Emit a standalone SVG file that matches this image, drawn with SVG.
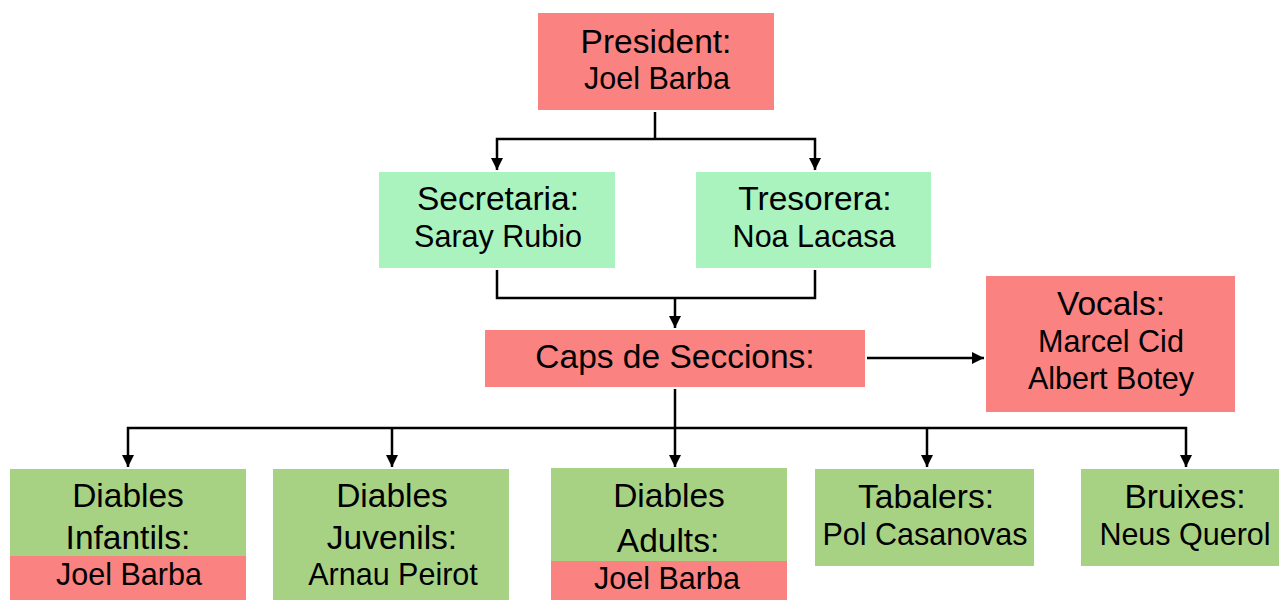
<svg xmlns="http://www.w3.org/2000/svg" width="1279" height="600" viewBox="0 0 1279 600">
<defs>
<style>
.red{fill:#FA8280}
.mint{fill:#AAF2BE}
.green{fill:#A8D283}
text{font-family:"Liberation Sans",Arial,sans-serif;font-size:30.5px;fill:#000;text-anchor:middle}
text.h{font-size:33.5px}
.c{fill:none;stroke:#000;stroke-width:2.5}
</style>
<marker id="ah" viewBox="0 0 10 10" refX="10" refY="5" markerWidth="5" markerHeight="5" orient="auto" markerUnits="strokeWidth">
<path d="M0,0 L10,5 L0,10 Z" fill="#000"/>
</marker>
</defs>
<rect width="1279" height="600" fill="#fff"/>
<g id="connectors">
<path class="c" d="M655,112 V139"/>
<path class="c" d="M655,139 H497 V170" marker-end="url(#ah)"/>
<path class="c" d="M655,139 H815 V170" marker-end="url(#ah)"/>
<path class="c" d="M497,270 V298 H815 V270"/>
<path class="c" d="M675,298 V328" marker-end="url(#ah)"/>
<path class="c" d="M867,358 H984" marker-end="url(#ah)"/>
<path class="c" d="M675,389 V428"/>
<path class="c" d="M675,428 H128 V467" marker-end="url(#ah)"/>
<path class="c" d="M392,428 V467" marker-end="url(#ah)"/>
<path class="c" d="M675,428 V467" marker-end="url(#ah)"/>
<path class="c" d="M927,428 V467" marker-end="url(#ah)"/>
<path class="c" d="M675,428 H1186 V467" marker-end="url(#ah)"/>
</g>
<g id="president">
<rect class="red" x="538" y="13" width="236" height="97"/>
<text class="h" x="656" y="53">President:</text>
<text x="657" y="89">Joel Barba</text>
</g>
<g id="secretaria">
<rect class="mint" x="379" y="172" width="236" height="96"/>
<text class="h" x="498" y="210">Secretaria:</text>
<text x="498" y="247">Saray Rubio</text>
</g>
<g id="tresorera">
<rect class="mint" x="696" y="172" width="235" height="96"/>
<text class="h" x="815" y="210">Tresorera:</text>
<text x="814" y="247">Noa Lacasa</text>
</g>
<g id="caps">
<rect class="red" x="485" y="330" width="380" height="57"/>
<text class="h" x="675" y="368">Caps de Seccions:</text>
</g>
<g id="vocals">
<rect class="red" x="986" y="276" width="249" height="136"/>
<text class="h" x="1111" y="315">Vocals:</text>
<text x="1111" y="352">Marcel Cid</text>
<text x="1111" y="389">Albert Botey</text>
</g>
<g id="infantils">
<rect class="green" x="10" y="469" width="236" height="131"/>
<rect class="red" x="10" y="556" width="236" height="44"/>
<text class="h" x="128" y="507">Diables</text>
<text class="h" x="128" y="549">Infantils:</text>
<text x="129" y="585">Joel Barba</text>
</g>
<g id="juvenils">
<rect class="green" x="273" y="469" width="236" height="131"/>
<text class="h" x="392" y="507">Diables</text>
<text class="h" x="392" y="549">Juvenils:</text>
<text x="393" y="585">Arnau Peirot</text>
</g>
<g id="adults">
<rect class="green" x="551" y="468" width="236" height="132"/>
<rect class="red" x="551" y="561" width="236" height="39"/>
<text class="h" x="669" y="507">Diables</text>
<text class="h" x="668" y="552">Adults:</text>
<text x="667" y="589">Joel Barba</text>
</g>
<g id="tabalers">
<rect class="green" x="815" y="469" width="219" height="97"/>
<text class="h" x="926" y="508">Tabalers:</text>
<text x="925" y="545">Pol Casanovas</text>
</g>
<g id="bruixes">
<rect class="green" x="1081" y="469" width="198" height="97"/>
<text class="h" x="1185" y="508">Bruixes:</text>
<text x="1185" y="545">Neus Querol</text>
</g>
</svg>
